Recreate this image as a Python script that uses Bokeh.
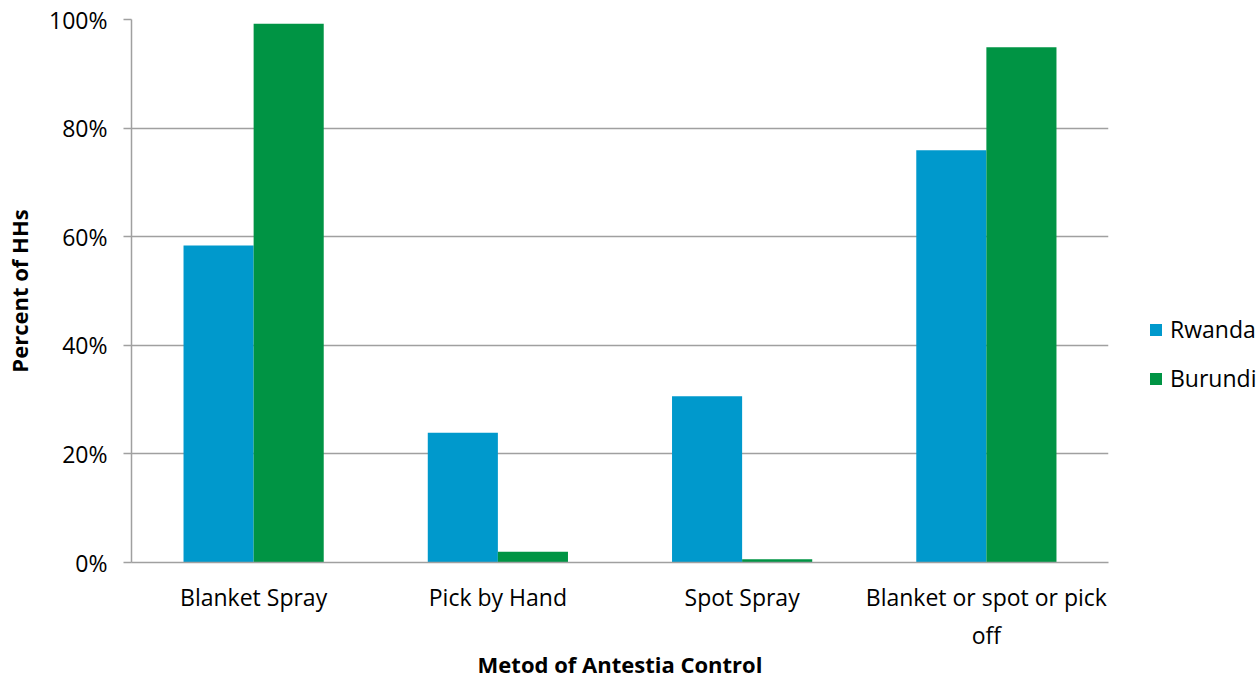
from bokeh.plotting import figure
from bokeh.models import (ColumnDataSource, FactorRange, Range1d, NumeralTickFormatter,
                          FixedTicker, Legend, LegendItem)
from bokeh.transform import dodge
from bokeh.embed import file_html
from bokeh.resources import INLINE

categories = ["Blanket Spray", "Pick by Hand", "Spot Spray", "Blanket or spot or pick\noff"]
rwanda = [0.584, 0.239, 0.306, 0.759]
burundi = [0.992, 0.020, 0.006, 0.949]
y_ticks = [0, 0.2, 0.4, 0.6, 0.8, 1.0]

FONT = "Open Sans"
GRID = "#a0a0a0"
FS = "23px"

src = ColumnDataSource(dict(cat=categories, rwanda=rwanda, burundi=burundi))

p = figure(frame_width=977, frame_height=543, x_range=FactorRange(*categories, range_padding=0),
           y_range=Range1d(0, 1), output_backend="svg", toolbar_location=None,
           min_border_left=131, min_border_right=152, min_border_top=19, min_border_bottom=10)

r1 = p.vbar(x=dodge("cat", -0.1435, range=p.x_range), top="rwanda", width=0.287,
            source=src, fill_color="#0099cc", line_color=None)
r2 = p.vbar(x=dodge("cat", 0.1435, range=p.x_range), top="burundi", width=0.287,
            source=src, fill_color="#009444", line_color=None)

p.outline_line_color = None
p.xgrid.grid_line_color = None
p.ygrid.grid_line_color = GRID
p.ygrid.grid_line_width = 1.5
p.ygrid.ticker = FixedTicker(ticks=y_ticks)

p.yaxis.ticker = FixedTicker(ticks=y_ticks)
p.yaxis.formatter = NumeralTickFormatter(format="0%")
p.yaxis.axis_line_color = GRID
p.yaxis.axis_line_width = 1.5
p.yaxis.major_tick_line_color = GRID
p.yaxis.major_tick_line_width = 1.5
p.yaxis.major_tick_out = 8
p.yaxis.major_tick_in = 0
p.yaxis.minor_tick_line_color = None
p.yaxis.major_label_text_font = FONT
p.yaxis.major_label_text_font_size = FS
p.yaxis.major_label_text_color = "#000000"
p.yaxis.major_label_standoff = 16
p.yaxis.axis_label = "Percent of HHs"
p.yaxis.axis_label_text_font = FONT
p.yaxis.axis_label_text_font_size = "22px"
p.yaxis.axis_label_text_font_style = "bold"
p.yaxis.axis_label_text_color = "#000000"
p.yaxis.axis_label_standoff = 12

p.xaxis.axis_line_color = GRID
p.xaxis.axis_line_width = 1.5
p.xaxis.major_tick_line_color = None
p.xaxis.minor_tick_line_color = None
p.xaxis.major_label_text_font = FONT
p.xaxis.major_label_text_font_size = FS
p.xaxis.major_label_text_color = "#000000"
p.xaxis.major_label_standoff = 12
p.xaxis.axis_label = "Metod of Antestia Control"
p.xaxis.axis_label_text_font = FONT
p.xaxis.axis_label_text_font_size = "22px"
p.xaxis.axis_label_text_font_style = "bold"
p.xaxis.axis_label_text_color = "#000000"
p.xaxis.axis_label_standoff = -5

legend = Legend(items=[LegendItem(label="Rwanda", renderers=[r1]),
                       LegendItem(label="Burundi", renderers=[r2])],
                location=(40, 168), padding=0, margin=0, border_line_color=None,
                background_fill_alpha=0, glyph_width=15, glyph_height=15,
                label_height=24, spacing=17, label_standoff=7,
                label_text_font=FONT, label_text_font_size=FS, label_text_color="#000000")
p.add_layout(legend, "right")

open("out.html", "w").write(file_html(p, INLINE))
